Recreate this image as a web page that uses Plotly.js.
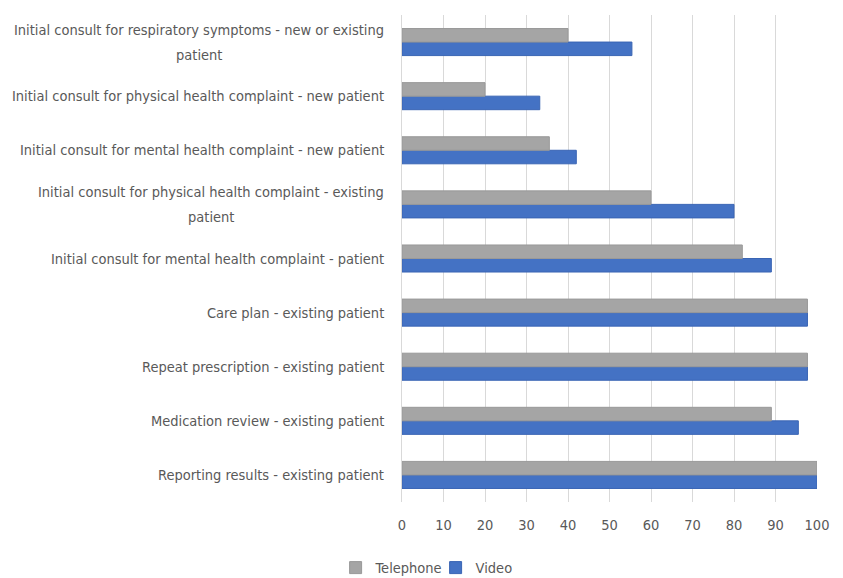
<!DOCTYPE html>
<html>
<head>
<meta charset="utf-8">
<script src="https://cdn.plot.ly/plotly-3.0.1.min.js"></script>
<style>html,body{margin:0;padding:0;background:#fff;}#chart{width:843px;height:578px;}</style>
</head>
<body>
<div id="chart"></div>
<script>
const categories = [
  "Initial consult for respiratory symptoms - new or existing<br>patient",
  "Initial consult for physical health complaint - new patient",
  "Initial consult for mental health complaint - new patient",
  "Initial consult for physical health complaint - existing<br>patient",
  "Initial consult for mental health complaint - patient",
  "Care plan - existing patient",
  "Repeat prescription - existing patient",
  "Medication review - existing patient",
  "Reporting results - existing patient"
];
const telephone = [40, 20, 35.5, 60, 82, 97.7, 97.7, 89, 100];
const video = [55.4, 33.2, 42, 80, 89, 97.7, 97.7, 95.5, 100];
const xTicks = [0, 10, 20, 30, 40, 50, 60, 70, 80, 90, 100];

const FONT = "'DejaVu Sans Condensed', sans-serif";
const FSIZE = 14.5;
const TXT = "#595959";

const cats = categories.map((c, i) => "c" + i);

const cv = document.createElement("canvas").getContext("2d");
cv.font = FSIZE + "px 'DejaVu Sans Condensed'";
const tw = s => cv.measureText(s).width;

const traces = [
  {
    type: "bar", orientation: "h", name: "Video",
    y: cats, x: video,
    marker: {color: "#4472C4", line: {color: "#3A65B4", width: 1}}
  },
  {
    type: "bar", orientation: "h", name: "Telephone",
    y: cats, x: telephone,
    marker: {color: "#A5A5A5", line: {color: "#999999", width: 1}}
  }
];

const annotations = [];
categories.forEach((c, i) => {
  const lines = c.split("<br>");
  const n = lines.length;
  const wmax = Math.max(...lines.map(tw));
  lines.forEach((ln, j) => {
    annotations.push({
      xref: "paper", yref: "y", x: 0, y: cats[i],
      xanchor: "right", yanchor: "middle",
      xshift: -16 - (wmax - tw(ln)) / 2,
      yshift: ((n - 1) / 2 - j) * 25,
      text: ln, showarrow: false,
      font: {family: FONT, size: FSIZE, color: TXT}
    });
  });
});

const layout = {
  width: 843, height: 578,
  margin: {l: 402, r: 26, t: 15, b: 76, autoexpand: false},
  barmode: "group", bargap: 0.5, bargroupgap: 0,
  paper_bgcolor: "#fff", plot_bgcolor: "#fff",
  showlegend: true,
  legend: {
    orientation: "h", traceorder: "reversed",
    x: -0.16, xanchor: "left", y: -0.102, yanchor: "top",
    font: {family: FONT, size: FSIZE, color: TXT},
    entrywidth: 55, entrywidthmode: "pixels"
  },
  xaxis: {
    range: [0, 100], tickvals: xTicks, ticktext: xTicks.map(String),
    showgrid: true, gridcolor: "#D9D9D9", gridwidth: 1,
    zeroline: false, showline: false,
    ticks: "outside", ticklen: 0, ticklabelstandoff: 10,
    tickfont: {family: FONT, size: FSIZE, color: TXT},
    fixedrange: true
  },
  yaxis: {
    categoryorder: "array", categoryarray: cats.slice().reverse(),
    showticklabels: false, showgrid: false, zeroline: false,
    showline: true, linecolor: "#D9D9D9", linewidth: 1,
    fixedrange: true
  },
  annotations: annotations
};

Plotly.newPlot("chart", traces, layout, {displayModeBar: false, staticPlot: true});
</script>
</body>
</html>
